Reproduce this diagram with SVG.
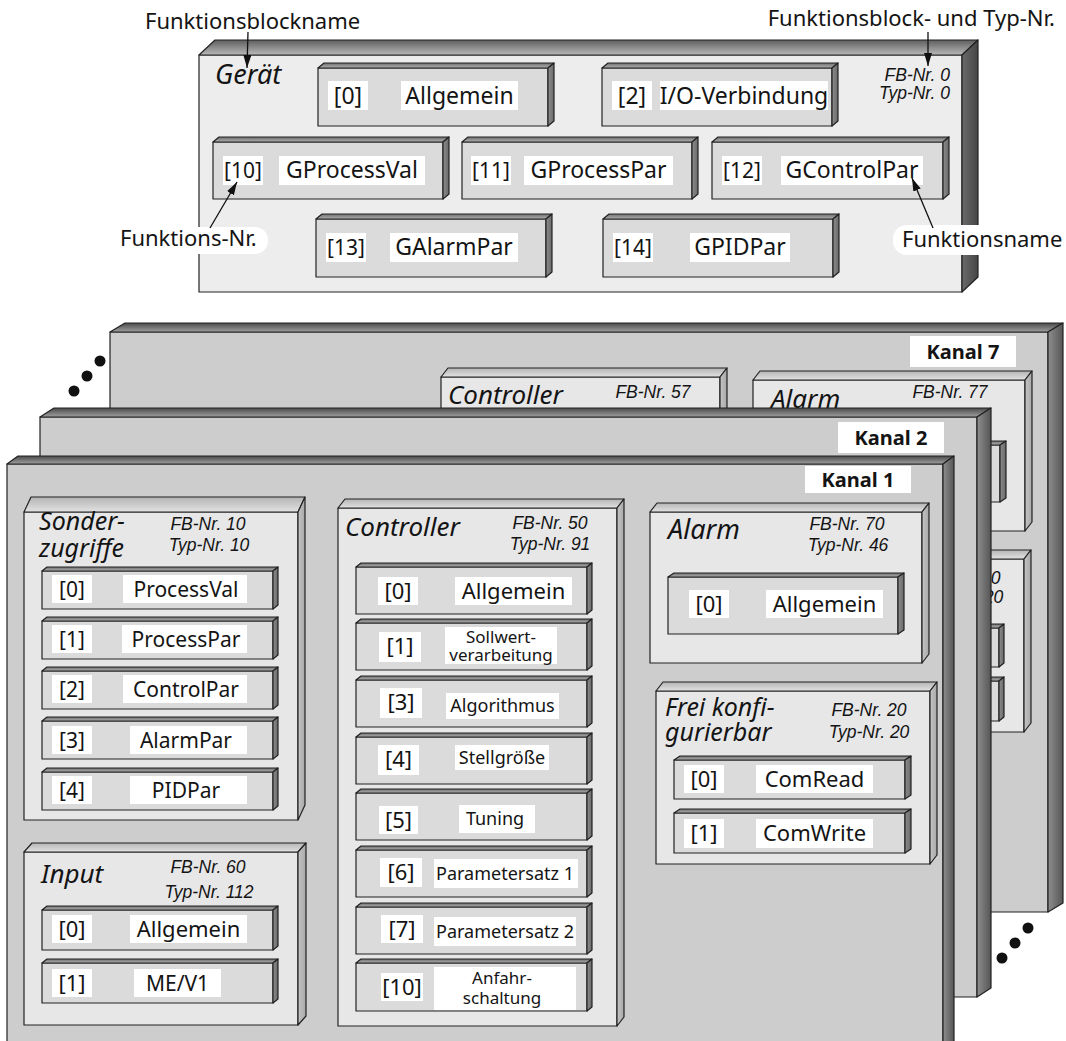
<svg xmlns="http://www.w3.org/2000/svg" width="1066" height="1041" viewBox="0 0 1066 1041">
<style>
.s{stroke:#222;stroke-width:1.2;stroke-linejoin:round}
.gf{fill:#ededed}.gt{fill:url(#gTop)}.gr{fill:url(#gRight)}
.kf{fill:#cdcdcd}.kt{fill:url(#kTop)}.kr{fill:url(#kRight)}
.bf{fill:#e7e7e8}.bt{fill:url(#bTop)}.br{fill:url(#bRight)}
.ff{fill:#dbdbdc}.ft{fill:url(#fTop)}.fr{fill:url(#fRight)}
.lb{fill:#fff}
text{font-family:"Noto Sans","Liberation Sans",sans-serif;fill:#141414}
.c{text-anchor:middle}
.e{text-anchor:end}
.ti{font-style:italic;font-size:26px}
.t2{font-style:italic;font-size:25px}
.tn{font-family:"Liberation Sans","Noto Sans",sans-serif;font-style:italic;font-size:17.5px}
.tk{font-weight:bold;font-size:20px}
.ta{font-size:22px}
.g1{font-size:23px}
.g2{font-size:21px}
.k1{font-size:21px}
.k2{font-size:18px}
.k3{font-size:17px}
.dot{fill:#111}
.ar{stroke:#111;stroke-width:1.3;fill:none;marker-end:url(#ah)}
.pill{fill:#fff}
</style>
<defs>
<linearGradient id="gTop" x1="0" y1="0" x2="0" y2="1"><stop offset="0" stop-color="#5e5e5e"/><stop offset="1" stop-color="#b9b9b9"/></linearGradient>
<linearGradient id="gRight" x1="0" y1="0" x2="1" y2="0"><stop offset="0" stop-color="#6a6a6a"/><stop offset="1" stop-color="#454545"/></linearGradient>
<linearGradient id="kTop" x1="0" y1="0" x2="0" y2="1"><stop offset="0" stop-color="#4a4a4a"/><stop offset="1" stop-color="#a0a0a0"/></linearGradient>
<linearGradient id="kRight" x1="0" y1="0" x2="1" y2="0"><stop offset="0" stop-color="#8e8e8e"/><stop offset="1" stop-color="#555555"/></linearGradient>
<linearGradient id="bTop" x1="0" y1="0" x2="0" y2="1"><stop offset="0" stop-color="#b4b4b4"/><stop offset="1" stop-color="#e2e2e2"/></linearGradient>
<linearGradient id="bRight" x1="0" y1="0" x2="1" y2="0"><stop offset="0" stop-color="#c4c4c4"/><stop offset="1" stop-color="#a8a8a8"/></linearGradient>
<linearGradient id="fTop" x1="0" y1="0" x2="0" y2="1"><stop offset="0" stop-color="#6e6e6e"/><stop offset="1" stop-color="#b0b0b0"/></linearGradient>
<linearGradient id="fRight" x1="0" y1="0" x2="1" y2="0"><stop offset="0" stop-color="#8c8c8c"/><stop offset="1" stop-color="#6a6a6a"/></linearGradient>
<marker id="ah" markerUnits="userSpaceOnUse" markerWidth="13" markerHeight="8" refX="13" refY="4" orient="auto"><path d="M0,0 L13,4 L0,8 z" fill="#111"/></marker>
</defs>

<!-- Gerät block -->
<g id="geraet">
<rect class="s gf" x="199" y="55" width="763" height="237"/>
<polygon class="s gt" points="199,55 215,40 978,40 962,55"/>
<polygon class="s gr" points="962,55 978,40 978,277 962,292"/>
<text class="ti" x="215" y="84" style="font-size:27px">Gerät</text>
<text class="tn e" x="950" y="81">FB-Nr. 0</text>
<text class="tn e" x="950" y="99">Typ-Nr. 0</text>
</g>
<g id="g-f0">
<rect class="s ff" x="318" y="68" width="230" height="58"/>
<polygon class="s ft" points="318,68 324,63 554,63 548,68"/>
<polygon class="s fr" points="548,68 554,63 554,121 548,126"/>
<rect class="lb" x="328" y="81" width="40" height="29"/><text class="g1 c" x="348" y="104">[0]</text>
<rect class="lb" x="401" y="81" width="117" height="29"/><text class="g1 c" x="459.5" y="104">Allgemein</text>
</g>
<g id="g-f2">
<rect class="s ff" x="602" y="68" width="230" height="58"/>
<polygon class="s ft" points="602,68 608,63 838,63 832,68"/>
<polygon class="s fr" points="832,68 838,63 838,121 832,126"/>
<rect class="lb" x="612" y="81" width="40" height="29"/><text class="g1 c" x="632" y="104">[2]</text>
<rect class="lb" x="660" y="81" width="168" height="29"/><text class="g1 c" x="744" y="104">I/O-Verbindung</text>
</g>
<g id="g-f10">
<rect class="s ff" x="213" y="142" width="230" height="57"/>
<polygon class="s ft" points="213,142 219,137 449,137 443,142"/>
<polygon class="s fr" points="443,142 449,137 449,194 443,199"/>
<rect class="lb" x="223" y="156" width="40" height="29"/><text class="g2 c" x="243" y="178">[10]</text>
<rect class="lb" x="279" y="156" width="146" height="29"/><text class="g1 c" x="352" y="178">GProcessVal</text>
</g>
<g id="g-f11">
<rect class="s ff" x="462" y="142" width="230" height="57"/>
<polygon class="s ft" points="462,142 468,137 698,137 692,142"/>
<polygon class="s fr" points="692,142 698,137 698,194 692,199"/>
<rect class="lb" x="471" y="156" width="40" height="29"/><text class="g2 c" x="491" y="178">[11]</text>
<rect class="lb" x="524" y="156" width="149" height="29"/><text class="g1 c" x="598.5" y="178">GProcessPar</text>
</g>
<g id="g-f12">
<rect class="s ff" x="712" y="142" width="231" height="57"/>
<polygon class="s ft" points="712,142 718,137 949,137 943,142"/>
<polygon class="s fr" points="943,142 949,137 949,194 943,199"/>
<rect class="lb" x="722" y="156" width="40" height="29"/><text class="g2 c" x="742" y="178">[12]</text>
<rect class="lb" x="781" y="156" width="142" height="29"/><text class="g1 c" x="852" y="178">GControlPar</text>
</g>
<g id="g-f13">
<rect class="s ff" x="316" y="219" width="230" height="58"/>
<polygon class="s ft" points="316,219 322,214 552,214 546,219"/>
<polygon class="s fr" points="546,219 552,214 552,272 546,277"/>
<rect class="lb" x="326" y="233" width="40" height="29"/><text class="g2 c" x="346" y="255">[13]</text>
<rect class="lb" x="390" y="233" width="128" height="29"/><text class="g1 c" x="454" y="255">GAlarmPar</text>
</g>
<g id="g-f14">
<rect class="s ff" x="603" y="219" width="230" height="58"/>
<polygon class="s ft" points="603,219 609,214 839,214 833,219"/>
<polygon class="s fr" points="833,219 839,214 839,272 833,277"/>
<rect class="lb" x="613" y="233" width="40" height="29"/><text class="g2 c" x="633" y="255">[14]</text>
<rect class="lb" x="690" y="233" width="100" height="29"/><text class="g1 c" x="740" y="255">GPIDPar</text>
</g>

<!-- Kanal 7 -->
<g id="kanal7">
<rect class="s kf" x="110" y="332" width="938" height="580"/>
<polygon class="s kt" points="110,332 125,323 1063,323 1048,332"/>
<polygon class="s kr" points="1048,332 1063,323 1063,903 1048,912"/>
<rect class="lb" x="910" y="336" width="106" height="31"/><text class="tk c" x="963" y="359">Kanal 7</text>
</g>
<g id="k7-controller">
<rect class="s bf" x="441" y="377" width="279" height="518"/>
<polygon class="s bt" points="441,377 448,368 727,368 720,377"/>
<polygon class="s br" points="720,377 727,368 727,886 720,895"/>
<text class="ti" x="448" y="404">Controller</text>
<text class="tn c" x="653" y="398">FB-Nr. 57</text>
</g>
<g id="k7-alarm">
<rect class="s bf" x="753" y="380" width="272" height="151"/>
<polygon class="s bt" points="753,380 760,371 1032,371 1025,380"/>
<polygon class="s br" points="1025,380 1032,371 1032,522 1025,531"/>
<text class="ti" x="771" y="408">Alarm</text>
<text class="tn c" x="950" y="398">FB-Nr. 77</text>
<rect class="s ff" x="770" y="445" width="230" height="57"/>
<polygon class="s ft" points="770,445 776,441 1006,441 1000,445"/>
<polygon class="s fr" points="1000,445 1006,441 1006,498 1000,502"/>
</g>
<g id="k7-frei">
<rect class="s bf" x="750" y="559" width="274" height="173"/>
<polygon class="s bt" points="750,559 757,550 1031,550 1024,559"/>
<polygon class="s br" points="1024,559 1031,550 1031,723 1024,732"/>
<text class="tn c" x="963" y="584">FB-Nr. 20</text>
<text class="tn c" x="963" y="603">Typ-Nr. 20</text>
<rect class="s ff" x="768" y="628" width="231" height="39"/>
<polygon class="s ft" points="768,628 773,624 1004,624 999,628"/>
<polygon class="s fr" points="999,628 1004,624 1004,663 999,667"/>
<rect class="s ff" x="768" y="681" width="231" height="40"/>
<polygon class="s ft" points="768,681 773,677 1004,677 999,681"/>
<polygon class="s fr" points="999,681 1004,677 1004,717 999,721"/>
</g>

<!-- Kanal 2 -->
<g id="kanal2">
<rect class="s kf" x="40" y="417" width="937" height="580"/>
<polygon class="s kt" points="40,417 54,408 991,408 977,417"/>
<polygon class="s kr" points="977,417 991,408 991,988 977,997"/>
<rect class="lb" x="838" y="422" width="106" height="31"/><text class="tk c" x="891" y="445">Kanal 2</text>
</g>

<!-- Kanal 1 -->
<g id="kanal1">
<rect class="s kf" x="7" y="464" width="936" height="585"/>
<polygon class="s kt" points="7,464 18,456 954,456 943,464"/>
<polygon class="s kr" points="943,464 954,456 954,1041 943,1049"/>
<rect class="lb" x="805" y="466" width="106" height="27"/><text class="tk c" x="858" y="487">Kanal 1</text>
</g>

<g id="k1-sonder">
<rect class="s bf" x="24" y="512" width="274" height="308"/>
<polygon class="s bt" points="24,512 31,497 305,497 298,512"/>
<polygon class="s br" points="298,512 305,497 305,805 298,820"/>
<text class="t2" x="39" y="530">Sonder-</text>
<text class="t2" x="39" y="557">zugriffe</text>
<text class="tn c" x="208" y="530">FB-Nr. 10</text>
<text class="tn c" x="209" y="551">Typ-Nr. 10</text>
</g>
<g id="k1-s0">
<rect class="s ff" x="42" y="571" width="231" height="38"/>
<polygon class="s ft" points="42,571 47,567 278,567 273,571"/>
<polygon class="s fr" points="273,571 278,567 278,605 273,609"/>
<rect class="lb" x="52" y="575" width="40" height="28"/><text class="k1 c" x="72" y="597">[0]</text>
<rect class="lb" x="123" y="575" width="124" height="28"/><text class="k1 c" x="186" y="597">ProcessVal</text>
</g>
<g id="k1-s1">
<rect class="s ff" x="42" y="621" width="231" height="38"/>
<polygon class="s ft" points="42,621 47,617 278,617 273,621"/>
<polygon class="s fr" points="273,621 278,617 278,655 273,659"/>
<rect class="lb" x="52" y="625" width="40" height="28"/><text class="k1 c" x="72" y="647">[1]</text>
<rect class="lb" x="122" y="625" width="125" height="28"/><text class="k1 c" x="186" y="647">ProcessPar</text>
</g>
<g id="k1-s2">
<rect class="s ff" x="42" y="671" width="231" height="38"/>
<polygon class="s ft" points="42,671 47,667 278,667 273,671"/>
<polygon class="s fr" points="273,671 278,667 278,705 273,709"/>
<rect class="lb" x="52" y="675" width="40" height="28"/><text class="k1 c" x="72" y="697">[2]</text>
<rect class="lb" x="123" y="675" width="124" height="28"/><text class="k1 c" x="186" y="697">ControlPar</text>
</g>
<g id="k1-s3">
<rect class="s ff" x="42" y="721" width="231" height="38"/>
<polygon class="s ft" points="42,721 47,717 278,717 273,721"/>
<polygon class="s fr" points="273,721 278,717 278,755 273,759"/>
<rect class="lb" x="52" y="726" width="40" height="28"/><text class="k1 c" x="72" y="748">[3]</text>
<rect class="lb" x="130" y="726" width="117" height="28"/><text class="k1 c" x="186" y="748">AlarmPar</text>
</g>
<g id="k1-s4">
<rect class="s ff" x="42" y="772" width="231" height="38"/>
<polygon class="s ft" points="42,772 47,768 278,768 273,772"/>
<polygon class="s fr" points="273,772 278,768 278,806 273,810"/>
<rect class="lb" x="52" y="776" width="40" height="28"/><text class="k1 c" x="72" y="798">[4]</text>
<rect class="lb" x="130" y="776" width="117" height="28"/><text class="k1 c" x="186" y="798">PIDPar</text>
</g>

<g id="k1-input">
<rect class="s bf" x="24" y="852" width="274" height="173"/>
<polygon class="s bt" points="24,852 32,843 306,843 298,852"/>
<polygon class="s br" points="298,852 306,843 306,1016 298,1025"/>
<text class="ti" x="41" y="883">Input</text>
<text class="tn c" x="208" y="873">FB-Nr. 60</text>
<text class="tn c" x="209" y="898">Typ-Nr. 112</text>
</g>
<g id="k1-i0">
<rect class="s ff" x="42" y="910" width="231" height="40"/>
<polygon class="s ft" points="42,910 47,906 278,906 273,910"/>
<polygon class="s fr" points="273,910 278,906 278,946 273,950"/>
<rect class="lb" x="52" y="915" width="40" height="28"/><text class="ta c" x="72" y="937">[0]</text>
<rect class="lb" x="130" y="915" width="117" height="28"/><text class="ta c" x="188.5" y="937">Allgemein</text>
</g>
<g id="k1-i1">
<rect class="s ff" x="42" y="963" width="231" height="40"/>
<polygon class="s ft" points="42,963 47,959 278,959 273,963"/>
<polygon class="s fr" points="273,963 278,959 278,999 273,1003"/>
<rect class="lb" x="52" y="969" width="40" height="28"/><text class="ta c" x="72" y="991">[1]</text>
<rect class="lb" x="134" y="969" width="87" height="28"/><text class="k1 c" x="177.5" y="991">ME/V1</text>
</g>

<g id="k1-controller">
<rect class="s bf" x="338" y="508" width="279" height="518"/>
<polygon class="s bt" points="338,508 345,499 624,499 617,508"/>
<polygon class="s br" points="617,508 624,499 624,1017 617,1026"/>
<text class="ti" x="345" y="536">Controller</text>
<text class="tn c" x="550" y="529">FB-Nr. 50</text>
<text class="tn c" x="550" y="550">Typ-Nr. 91</text>
</g>
<g id="k1-c0">
<rect class="s ff" x="356" y="567" width="231" height="47"/>
<polygon class="s ft" points="356,567 361,563 592,563 587,567"/>
<polygon class="s fr" points="587,567 592,563 592,610 587,614"/>
<rect class="lb" x="378" y="577" width="40" height="28"/><text class="ta c" x="398" y="599">[0]</text>
<rect class="lb" x="455" y="577" width="117" height="28"/><text class="ta c" x="513.5" y="599">Allgemein</text>
</g>
<g id="k1-c1">
<rect class="s ff" x="356" y="623" width="231" height="47"/>
<polygon class="s ft" points="356,623 361,619 592,619 587,623"/>
<polygon class="s fr" points="587,623 592,619 592,666 587,670"/>
<rect class="lb" x="379" y="632" width="42" height="30"/><text class="ta c" x="400" y="654">[1]</text>
<rect class="lb" x="445" y="627" width="112" height="37"/><text class="k3 c" x="501" y="643">Sollwert-</text><text class="k3 c" x="501" y="661">verarbeitung</text>
</g>
<g id="k1-c3">
<rect class="s ff" x="356" y="680" width="231" height="47"/>
<polygon class="s ft" points="356,680 361,676 592,676 587,680"/>
<polygon class="s fr" points="587,680 592,676 592,723 587,727"/>
<rect class="lb" x="380" y="688" width="42" height="30"/><text class="ta c" x="401" y="710">[3]</text>
<rect class="lb" x="446" y="693" width="113" height="26"/><text class="k2 c" x="502.5" y="712">Algorithmus</text>
</g>
<g id="k1-c4">
<rect class="s ff" x="356" y="737" width="231" height="47"/>
<polygon class="s ft" points="356,737 361,733 592,733 587,737"/>
<polygon class="s fr" points="587,737 592,733 592,780 587,784"/>
<rect class="lb" x="378" y="745" width="41" height="30"/><text class="ta c" x="398.5" y="767">[4]</text>
<rect class="lb" x="455" y="745" width="94" height="25"/><text class="k2 c" x="502" y="764">Stellgröße</text>
</g>
<g id="k1-c5">
<rect class="s ff" x="356" y="793" width="231" height="47"/>
<polygon class="s ft" points="356,793 361,789 592,789 587,793"/>
<polygon class="s fr" points="587,793 592,789 592,836 587,840"/>
<rect class="lb" x="379" y="806" width="39" height="28"/><text class="ta c" x="398.5" y="828">[5]</text>
<rect class="lb" x="459" y="805" width="76" height="28"/><text class="k2 c" x="495" y="825">Tuning</text>
</g>
<g id="k1-c6">
<rect class="s ff" x="356" y="850" width="231" height="47"/>
<polygon class="s ft" points="356,850 361,846 592,846 587,850"/>
<polygon class="s fr" points="587,850 592,846 592,893 587,897"/>
<rect class="lb" x="380" y="858" width="42" height="29"/><text class="ta c" x="401" y="880">[6]</text>
<rect class="lb" x="434" y="859" width="144" height="29"/><text class="k2 c" x="505" y="880">Parametersatz 1</text>
</g>
<g id="k1-c7">
<rect class="s ff" x="356" y="907" width="231" height="47"/>
<polygon class="s ft" points="356,907 361,903 592,903 587,907"/>
<polygon class="s fr" points="587,907 592,903 592,950 587,954"/>
<rect class="lb" x="381" y="915" width="42" height="28"/><text class="ta c" x="402" y="937">[7]</text>
<rect class="lb" x="434" y="917" width="142" height="29"/><text class="k2 c" x="505" y="938">Parametersatz 2</text>
</g>
<g id="k1-c10">
<rect class="s ff" x="356" y="963" width="231" height="48"/>
<polygon class="s ft" points="356,963 361,959 592,959 587,963"/>
<polygon class="s fr" points="587,963 592,959 592,1007 587,1011"/>
<rect class="lb" x="381" y="973" width="42" height="28"/><text class="ta c" x="402" y="995">[10]</text>
<rect class="lb" x="434" y="967" width="142" height="43"/><text class="k3 c" x="502" y="984">Anfahr-</text><text class="k3 c" x="502" y="1004">schaltung</text>
</g>

<g id="k1-alarm">
<rect class="s bf" x="650" y="512" width="272" height="151"/>
<polygon class="s bt" points="650,512 657,503 929,503 922,512"/>
<polygon class="s br" points="922,512 929,503 929,654 922,663"/>
<text class="ti" x="668" y="539" style="font-size:27px">Alarm</text>
<text class="tn c" x="847" y="530">FB-Nr. 70</text>
<text class="tn c" x="848" y="551">Typ-Nr. 46</text>
</g>
<g id="k1-a0">
<rect class="s ff" x="668" y="577" width="230" height="57"/>
<polygon class="s ft" points="668,577 674,573 904,573 898,577"/>
<polygon class="s fr" points="898,577 904,573 904,630 898,634"/>
<rect class="lb" x="689" y="590" width="40" height="28"/><text class="ta c" x="709" y="612">[0]</text>
<rect class="lb" x="766" y="590" width="117" height="28"/><text class="ta c" x="824.5" y="612">Allgemein</text>
</g>

<g id="k1-frei">
<rect class="s bf" x="656" y="691" width="274" height="173"/>
<polygon class="s bt" points="656,691 663,682 937,682 930,691"/>
<polygon class="s br" points="930,691 937,682 937,855 930,864"/>
<text class="t2" x="665" y="716">Frei konfi-</text>
<text class="t2" x="665" y="741">gurierbar</text>
<text class="tn c" x="869" y="716">FB-Nr. 20</text>
<text class="tn c" x="869" y="738">Typ-Nr. 20</text>
</g>
<g id="k1-fr0">
<rect class="s ff" x="674" y="760" width="231" height="39"/>
<polygon class="s ft" points="674,760 680,756 911,756 905,760"/>
<polygon class="s fr" points="905,760 911,756 911,795 905,799"/>
<rect class="lb" x="684" y="765" width="40" height="28"/><text class="ta c" x="704" y="787">[0]</text>
<rect class="lb" x="756" y="765" width="117" height="28"/><text class="ta c" x="814.5" y="787">ComRead</text>
</g>
<g id="k1-fr1">
<rect class="s ff" x="674" y="813" width="231" height="40"/>
<polygon class="s ft" points="674,813 680,809 911,809 905,813"/>
<polygon class="s fr" points="905,813 911,809 911,849 905,853"/>
<rect class="lb" x="684" y="819" width="40" height="29"/><text class="ta c" x="704" y="841">[1]</text>
<rect class="lb" x="756" y="819" width="117" height="29"/><text class="ta c" x="814.5" y="841">ComWrite</text>
</g>

<g id="dots">
<circle class="dot" cx="100" cy="361" r="5.5"/><circle class="dot" cx="87" cy="376" r="5.5"/><circle class="dot" cx="74" cy="391" r="5.5"/>
<circle class="dot" cx="1028" cy="928" r="5.5"/><circle class="dot" cx="1015" cy="943" r="5.5"/><circle class="dot" cx="1002" cy="958" r="5.5"/>
</g>

<g id="annotations">
<text class="ta" x="145" y="29">Funktionsblockname</text>
<text class="ta e" x="1055" y="26">Funktionsblock- und Typ-Nr.</text>
<rect class="pill" x="108" y="227" width="160" height="27" rx="13"/>
<text class="ta" x="120" y="246">Funktions-Nr.</text>
<rect class="pill" x="893" y="225" width="180" height="30" rx="14"/>
<text class="ta" x="902" y="247">Funktionsname</text>
</g>

<g id="connectors">
<line class="ar" x1="248" y1="32" x2="247" y2="68"/>
<line class="ar" x1="928" y1="32" x2="928" y2="66"/>
<line class="ar" x1="210" y1="228" x2="237" y2="182"/>
<line class="ar" x1="933" y1="228" x2="912" y2="178"/>
</g>
</svg>
